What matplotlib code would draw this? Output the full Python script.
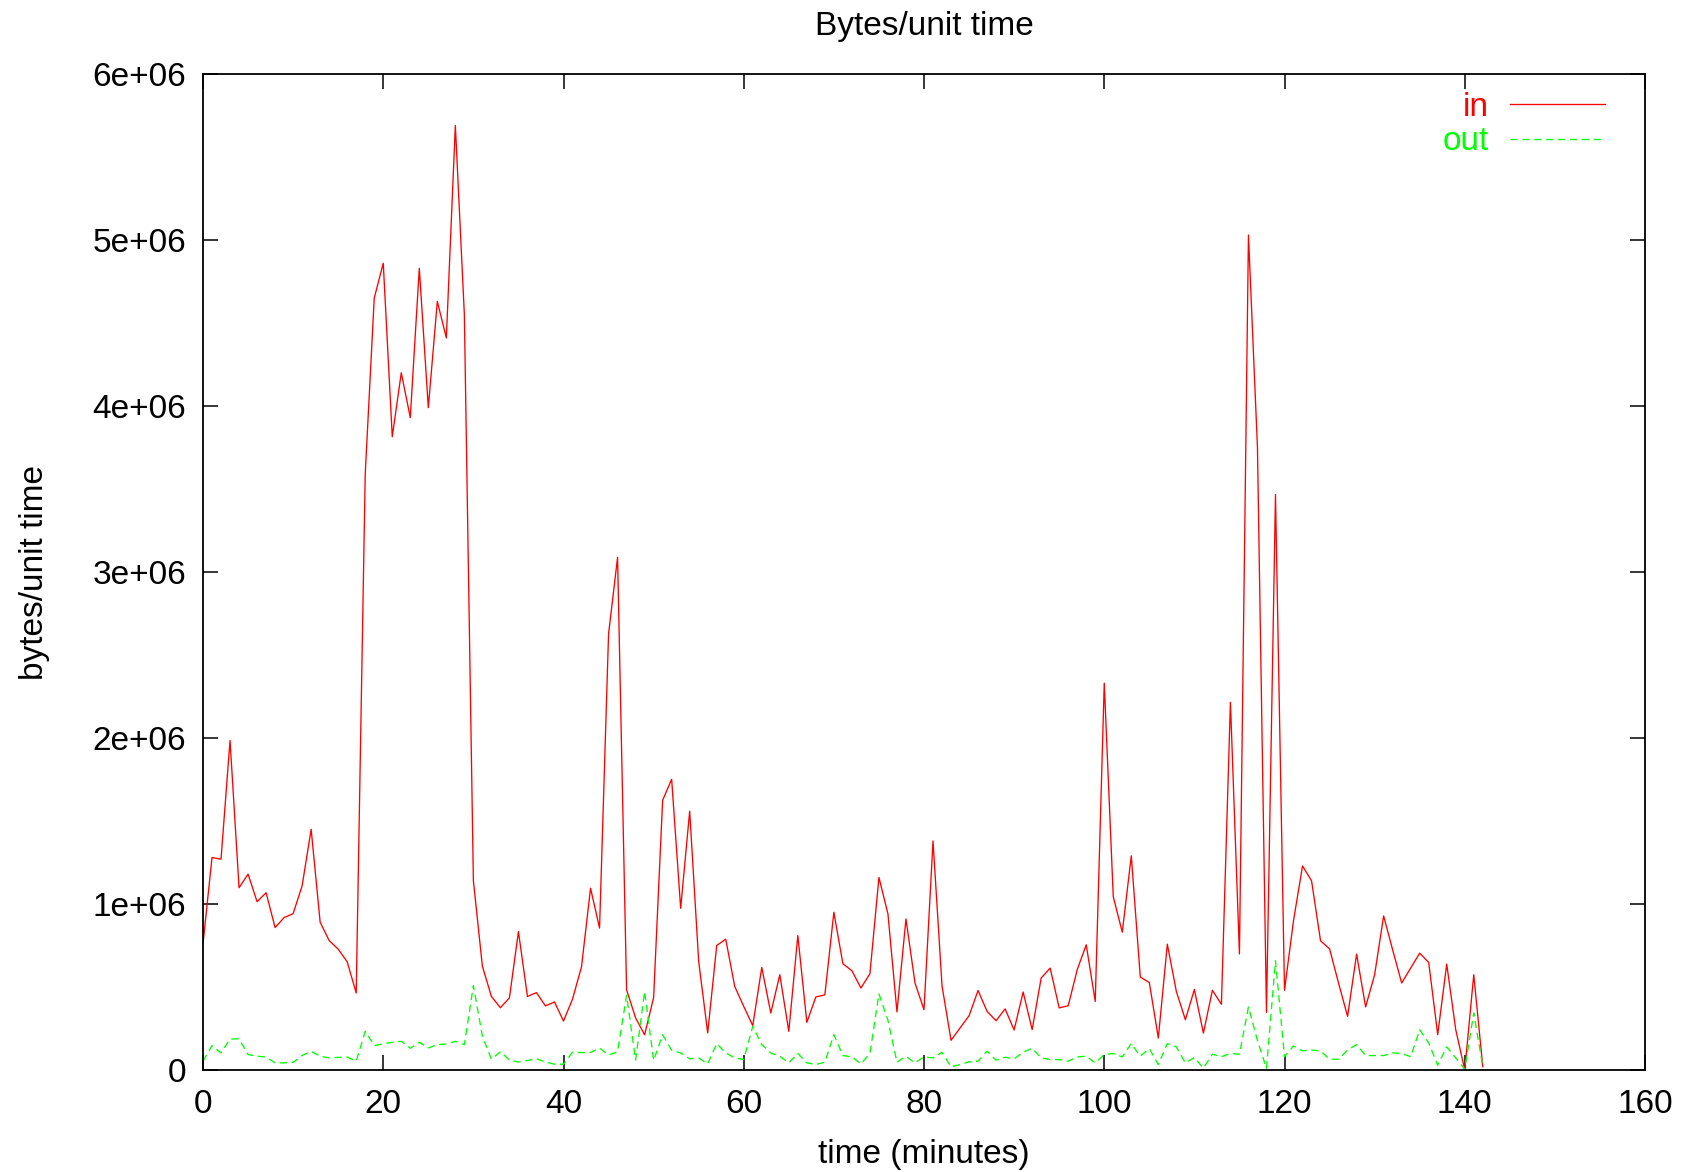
#!/usr/bin/env python3
# -*- coding: utf-8 -*-

import numpy as np
import matplotlib
matplotlib.use('Agg')
import matplotlib.pyplot as plt
from matplotlib.ticker import FuncFormatter

plt.rcParams['font.family'] = ['Liberation Sans', 'DejaVu Sans']

# traffic per minute, in millions of bytes
in_mb = [0.76, 1.28, 1.27, 1.985, 1.098, 1.18, 1.014, 1.068, 0.858, 0.918,
         0.942, 1.11, 1.45, 0.89, 0.78, 0.728, 0.652, 0.464, 3.59, 4.65,
         4.86, 3.815, 4.20, 3.93, 4.83, 3.99, 4.63, 4.41, 5.69, 4.55,
         1.14, 0.625, 0.443, 0.375, 0.435, 0.834, 0.443, 0.466, 0.386, 0.41,
         0.295, 0.427, 0.622, 1.095, 0.855, 2.627, 3.088, 0.483, 0.314, 0.212,
         0.437, 1.625, 1.751, 0.974, 1.559, 0.654, 0.223, 0.75, 0.788, 0.503,
         0.383, 0.267, 0.618, 0.343, 0.574, 0.233, 0.81, 0.287, 0.44, 0.453,
         0.95, 0.64, 0.598, 0.494, 0.58, 1.16, 0.94, 0.35, 0.91, 0.524,
         0.363, 1.38, 0.507, 0.179, 0.253, 0.327, 0.479, 0.353, 0.297, 0.368,
         0.241, 0.47, 0.243, 0.554, 0.614, 0.374, 0.387, 0.604, 0.754, 0.413,
         2.33, 1.044, 0.83, 1.29, 0.56, 0.527, 0.193, 0.758, 0.473, 0.303,
         0.485, 0.222, 0.48, 0.396, 2.215, 0.699, 5.03, 3.75, 0.347, 3.467,
         0.48, 0.9, 1.229, 1.14, 0.778, 0.73, 0.523, 0.323, 0.698, 0.38,
         0.574, 0.928, 0.724, 0.524, 0.614, 0.704, 0.648, 0.213, 0.638, 0.243,
         0.0, 0.574, 0.02]

out_mb = [0.053, 0.147, 0.103, 0.187, 0.187, 0.093, 0.083, 0.078, 0.043, 0.043,
          0.046, 0.087, 0.113, 0.083, 0.073, 0.076, 0.078, 0.053, 0.233, 0.147,
          0.157, 0.167, 0.173, 0.131, 0.167, 0.133, 0.153, 0.157, 0.173, 0.153,
          0.508, 0.205, 0.065, 0.11, 0.06, 0.048, 0.057, 0.068, 0.048, 0.035,
          0.035, 0.107, 0.105, 0.105, 0.133, 0.09, 0.11, 0.45, 0.06, 0.473,
          0.057, 0.213, 0.119, 0.103, 0.067, 0.073, 0.037, 0.159, 0.103, 0.073,
          0.063, 0.263, 0.153, 0.103, 0.083, 0.043, 0.1, 0.043, 0.033, 0.047,
          0.213, 0.087, 0.079, 0.037, 0.099, 0.459, 0.3, 0.047, 0.083, 0.043,
          0.079, 0.073, 0.107, 0.019, 0.033, 0.049, 0.053, 0.113, 0.059, 0.077,
          0.067, 0.107, 0.131, 0.073, 0.063, 0.063, 0.053, 0.079, 0.083, 0.043,
          0.093, 0.099, 0.079, 0.159, 0.083, 0.129, 0.033, 0.159, 0.139, 0.043,
          0.075, 0.011, 0.095, 0.08, 0.1, 0.095, 0.38, 0.178, 0.01, 0.658,
          0.08, 0.145, 0.115, 0.12, 0.115, 0.065, 0.065, 0.12, 0.153, 0.087,
          0.087, 0.087, 0.103, 0.1, 0.08, 0.243, 0.163, 0.029, 0.139, 0.073,
          0.005, 0.344, 0.02]

minutes = np.arange(len(in_mb))
bytes_in = np.array(in_mb) * 1e6
bytes_out = np.array(out_mb) * 1e6

fig = plt.figure(figsize=(16.85, 11.72), dpi=100)
ax = fig.add_axes([203 / 1685, 102 / 1172, 1442 / 1685, 996 / 1172])

ax.plot(minutes, bytes_in, color='#ff0000', lw=0.95, label='in')
ax.plot(minutes, bytes_out, color='#00ff00', lw=0.95, ls=(0, (5.5, 3.5)), label='out')

ax.set_xlim(0, 160)
ax.set_ylim(0, 6e6)
ax.set_xticks(np.arange(0, 161, 20))
ax.set_yticks(np.arange(0, 6.1e6, 1e6))
ax.yaxis.set_major_formatter(FuncFormatter(lambda v, p: '0' if v == 0 else '%g' % v))

# gnuplot look: inward ticks mirrored on all sides
ax.tick_params(direction='in', length=11, width=1.1, labelsize=24,
               top=True, right=True)
ax.tick_params(axis='x', pad=14)
ax.tick_params(axis='y', pad=12)
for s in ax.spines.values():
    s.set_linewidth(1.3)

ax.set_title('Bytes/unit time', fontsize=24, pad=28)
ax.set_xlabel('time (minutes)', fontsize=24, labelpad=13)
ax.set_ylabel('bytes/unit time', fontsize=24, labelpad=31)

ax.legend(loc='upper right', bbox_to_anchor=((1605 - 203) / 1442, (1070 - 92) / 996),
          frameon=False, markerfirst=False, labelcolor='linecolor', fontsize=24,
          handlelength=2.85, handletextpad=0.64, labelspacing=0.1,
          borderpad=0, borderaxespad=0)

fig.savefig('out.png', dpi=100)
